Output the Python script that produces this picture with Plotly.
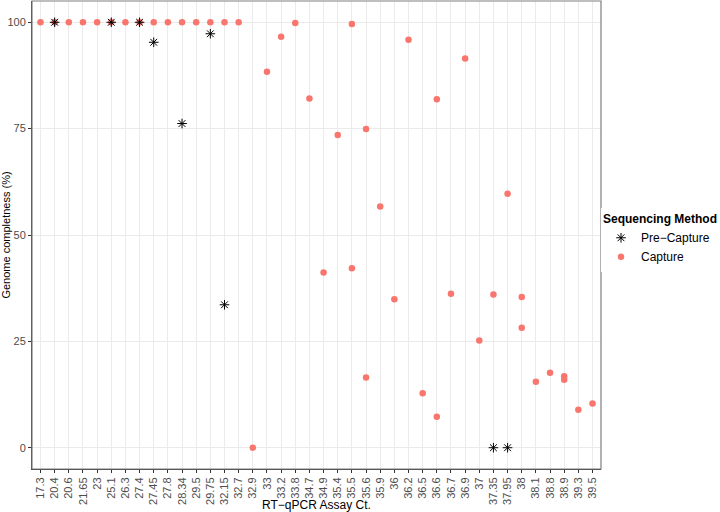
import plotly.graph_objects as go

# x categories (RT-qPCR Ct values as labels)
ct_labels = ["17.3", "20.4", "20.6", "21.65", "23", "25.1", "26.3", "27.4", "27.45", "27.8",
             "28.34", "29.5", "29.75", "32.15", "32.7", "32.9", "33", "33.2", "33.8", "34.7",
             "34.9", "35.4", "35.5", "35.6", "35.9", "36", "36.2", "36.5", "36.6", "36.7",
             "36.9", "37", "37.35", "37.95", "38", "38.1", "38.8", "38.9", "39.3", "39.5"]

pre_ct = ["20.4", "25.1", "27.4", "27.45", "28.34", "29.75", "32.15", "37.35", "37.95"]
pre_completeness = [100, 100, 100, 95.3, 76.2, 97.3, 33.6, 0, 0]

cap_ct = ["17.3", "20.4", "20.6", "21.65", "23", "25.1", "26.3", "27.4", "27.45", "27.8",
          "28.34", "29.5", "29.75", "32.15", "32.7", "32.9", "33", "33.2", "33.8", "34.7",
          "34.9", "35.4", "35.5", "35.5", "35.6", "35.6", "35.9", "36", "36.2", "36.5",
          "36.6", "36.6", "36.7", "36.9", "37", "37.35", "37.95", "38", "38", "38.1",
          "38.8", "38.9", "38.9", "39.3", "39.5"]
cap_completeness = [100, 100, 100, 100, 100, 100, 100, 100, 100, 100,
                    100, 100, 100, 100, 100, 0, 88.4, 96.6, 99.8, 82.1,
                    41.2, 73.5, 99.6, 42.2, 74.9, 16.5, 56.7, 34.9, 95.9, 12.8,
                    81.9, 7.3, 36.2, 91.5, 25.2, 36.0, 59.7, 35.4, 28.2, 15.5,
                    17.6, 16.8, 16.0, 8.9, 10.4]

fig = go.Figure()

fig.add_trace(go.Scatter(
    x=cap_ct, y=cap_completeness, mode="markers", name="Capture",
    marker=dict(color="#F8766D", size=6.5, line=dict(width=0)),
))
fig.add_trace(go.Scatter(
    x=pre_ct, y=pre_completeness, mode="markers", name="Pre\u2212Capture",
    marker=dict(symbol="asterisk-open", color="black", size=8, line=dict(width=1, color="black")),
))

fig.update_layout(
    width=720, height=512,
    plot_bgcolor="white", paper_bgcolor="white",
    font=dict(family="Liberation Sans, Arial, sans-serif", color="black"),
    margin=dict(l=32, r=111, t=1, b=43),
    legend=dict(
        title=dict(text="<b>Sequencing Method</b>", font=dict(size=12)),
        x=1.0, xanchor="left", y=0.49, yanchor="middle",
        font=dict(size=12), traceorder="reversed",
        tracegroupgap=0, itemwidth=30,
    ),
    shapes=[dict(type="rect", xref="paper", yref="paper", x0=0, x1=1, y0=0, y1=1,
                 line=dict(color="#7F7F7F", width=1.2))],
)

fig.update_xaxes(
    type="category", categoryorder="array", categoryarray=ct_labels,
    range=[-0.6, len(ct_labels) - 0.4],
    showgrid=True, gridcolor="#EBEBEB", gridwidth=1,
    tickangle=-90, tickfont=dict(size=11, color="#4D4D4D"),
    ticks="outside", ticklen=3, tickcolor="#333333",
    showline=True, linecolor="#333333", linewidth=1,
    title=dict(text="RT\u2212qPCR Assay Ct.", font=dict(size=12), standoff=3),
    automargin=False, zeroline=False,
)
fig.update_yaxes(
    range=[-5, 105], tickvals=[0, 25, 50, 75, 100],
    showgrid=True, gridcolor="#EBEBEB", gridwidth=1,
    tickfont=dict(size=11, color="#4D4D4D"),
    ticks="outside", ticklen=3, tickcolor="#333333",
    showline=True, linecolor="#333333", linewidth=1,
    title=dict(text="Genome completness (%)", font=dict(size=11), standoff=1),
    automargin=False, zeroline=False,
)

# drop the page's default 8px body margin so the figure sits at the window's corner
fig.write_html("out.html", config={"displayModeBar": False},
               post_script="document.body.style.margin='0';")
